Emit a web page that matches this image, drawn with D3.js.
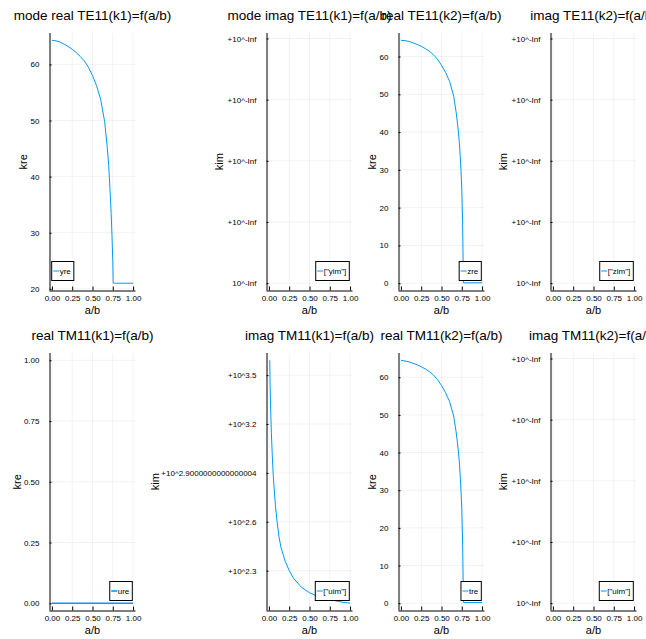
<!DOCTYPE html>
<html><head><meta charset="utf-8">
<script src="https://cdn.jsdelivr.net/npm/d3@7"></script>
<style>
body{margin:0;background:#fff}
svg{display:block}
text{font-family:"Liberation Sans",Arial,Helvetica,sans-serif;fill:#000}
</style>
</head><body>
<svg id="c" width="646" height="639"></svg>
<script>
// ---------- data ----------
const abGrid = [0, 0.05, 0.1, 0.15, 0.2, 0.25, 0.3, 0.35, 0.4, 0.45, 0.5, 0.55, 0.6, 0.65, 0.68, 0.7, 0.72, 0.73, 0.74, 0.75, 0.755, 0.76, 0.765, 0.77, 0.8, 0.85, 0.9, 0.95, 1.0];
const yre = [64.3, 64.2, 64.0, 63.6, 63.2, 62.7, 62.1, 61.4, 60.6, 59.5, 58.0, 56.2, 53.8, 49.8, 45.5, 42.0, 36.5, 33.4, 29.5, 25.0, 21.0, 21.0, 21.0, 21.0, 21.0, 21.0, 21.0, 21.0, 21.0];
const zre = [64.3, 64.2, 64.0, 63.6, 63.2, 62.7, 62.1, 61.4, 60.5, 59.3, 57.7, 55.8, 53.4, 49.5, 45.3, 41.8, 37.2, 33.8, 29.8, 25.0, 20.5, 16.0, 8.6, 0.1, 0.1, 0.1, 0.1, 0.1, 0.1];
const tre = [64.5, 64.3, 64.1, 63.7, 63.3, 62.8, 62.2, 61.5, 60.6, 59.4, 57.8, 55.9, 53.5, 49.7, 45.5, 42.0, 37.5, 34.0, 30.0, 25.2, 20.8, 16.2, 8.8, 0.2, 0.2, 0.2, 0.2, 0.2, 0.2];
const ureX = [0, 0.25, 0.5, 0.75, 1.0];
const ure = [0, 0, 0, 0, 0];
const uimX = [0.01, 0.015, 0.02, 0.03, 0.04, 0.05, 0.06, 0.08, 0.1, 0.125, 0.15, 0.2, 0.25, 0.3, 0.4, 0.5, 0.6, 0.7, 0.8, 0.9, 1.0];
const uim = [3900, 2700, 2050, 1400, 1050, 820, 680, 500, 400, 320, 275, 228, 200, 180, 158, 146, 139, 134, 131, 128, 126];

const xTickVals = [0, 0.25, 0.5, 0.75, 1];
const xTickLabels = ["0.00", "0.25", "0.50", "0.75", "1.00"];
const reTicksK1 = [20, 30, 40, 50, 60];
const reTicksK2 = [0, 10, 20, 30, 40, 50, 60];
const reTicksTM1 = [0, 0.25, 0.5, 0.75, 1];
const reTicksTM1Labels = ["0.00", "0.25", "0.50", "0.75", "1.00"];
const uimTickExp = [2.3, 2.6, 2.9, 3.2, 3.5];
const uimTickLabels = ["+10^2.3", "+10^2.6", "+10^2.9000000000000004", "+10^3.2", "+10^3.5"];
const infTickIdx = [0, 1, 2, 3, 4];
const infTickLabels = ["10^-Inf", "+10^-Inf", "+10^-Inf", "+10^-Inf", "+10^-Inf"];

const titles = ["mode real TE11(k1)=f(a/b)", "mode imag TE11(k1)=f(a/b)", "real TE11(k2)=f(a/b)", "imag TE11(k2)=f(a/b)",
                "real TM11(k1)=f(a/b)", "imag TM11(k1)=f(a/b)", "real TM11(k2)=f(a/b)", "imag TM11(k2)=f(a/b)"];
const yLabels = ["kre", "kim", "kre", "kim", "kre", "kim", "kre", "kim"];
const legendLabels = ["yre", "[\"yim\"]", "zre", "[\"zim\"]", "ure", "[\"uim\"]", "tre", "[\"uim\"]"];

// ---------- layout ----------
const COLOR = "#009AFA";
const cols = [{l: 49.5, r: 135.5}, {l: 266.5, r: 352.5}, {l: 398.5, r: 484.5}, {l: 550.5, r: 636.5}];
const rows = [{t: 33, b: 290.5}, {t: 353, b: 610.5}];
const yLabX = [[26.5, 223, 376, 507], [20.5, 159, 376, 507]];

function widen(a, b) { const e = 0.03 * (b - a); return [a - e, b + e]; }

const svg = d3.select("#c");

function panel(i, cfg) {
  const row = rows[Math.floor(i / 4)], col = cols[i % 4];
  const {l, r} = col, {t, b} = row;
  const x = d3.scaleLinear().domain(widen(0, 1)).range([l, r]);
  const y = cfg.y.range([b, t]);
  const g = svg.append("g");
  const lw = cfg.lw || 1;

  // grid
  g.append("g").selectAll("line").data(xTickVals).join("line")
    .attr("x1", d => x(d)).attr("x2", d => x(d)).attr("y1", t).attr("y2", b)
    .attr("stroke", "#000").attr("stroke-opacity", 0.1).attr("stroke-width", 0.5);
  g.append("g").selectAll("line").data(cfg.ticks).join("line")
    .attr("x1", l).attr("x2", r).attr("y1", d => y(d)).attr("y2", d => y(d))
    .attr("stroke", "#000").attr("stroke-opacity", 0.1).attr("stroke-width", 0.5);

  // axes
  const ax = g.append("g").attr("transform", `translate(0,${b})`)
    .call(d3.axisBottom(x).tickValues(xTickVals).tickFormat((d, k) => xTickLabels[k])
      .tickSize(-4).tickSizeOuter(0).tickPadding(5));
  const ay = g.append("g").attr("transform", `translate(${l},0)`)
    .call(d3.axisLeft(y).tickValues(cfg.ticks).tickFormat((d, k) => cfg.labels[k])
      .tickSize(-2).tickSizeOuter(0).tickPadding(10));
  [ax, ay].forEach(a => {
    a.attr("font-family", null).attr("font-size", null);
    a.selectAll("text").attr("font-size", 8).style("fill", "#000");
    a.selectAll("line,path").attr("stroke", "#000").attr("stroke-width", 1);
  });
  ay.select("path.domain").attr("d", `M0.5,${b}V${t}`);
  ax.select("path.domain").attr("d", `M${l},0.5H${r}`);

  // series
  if (cfg.xs && cfg.vals) {
    const line = d3.line().x((d, k) => x(cfg.xs[k])).y(d => y(d));
    g.append("path").datum(cfg.vals).attr("d", line)
      .attr("fill", "none").attr("stroke", COLOR).attr("stroke-width", lw);
  }

  // title and guides
  svg.append("text").attr("x", (l + r) / 2).attr("y", t - 13).attr("text-anchor", "middle")
    .attr("font-size", 13.5).text(titles[i]);
  g.append("text").attr("x", (l + r) / 2).attr("y", b + 23.5).attr("text-anchor", "middle")
    .attr("font-size", 11).text("a/b");
  const yl = yLabX[Math.floor(i / 4)][i % 4];
  g.append("text").attr("transform", `translate(${yl},${(t + b) / 2}) rotate(-90)`)
    .attr("text-anchor", "middle").attr("font-size", 11).text(yLabels[i]);

  // legend
  const lg = g.append("g");
  const txt = lg.append("text").attr("font-size", 8).attr("dy", "0.35em").text(legendLabels[i]);
  const tw = txt.node().getComputedTextLength();
  const w = tw + 11, h = 19;
  const bx = cfg.legendLeft ? l + 2.2 : r - 3.2 - w;
  const by = b - 10 - h;
  lg.insert("rect", "text").attr("x", bx).attr("y", by).attr("width", w).attr("height", h)
    .attr("fill", "#fff").attr("stroke", "#000").attr("stroke-width", 1);
  lg.append("line").attr("x1", bx + 1.5).attr("x2", bx + 7.5).attr("y1", by + h / 2).attr("y2", by + h / 2)
    .attr("stroke", COLOR).attr("stroke-width", lw);
  txt.attr("x", bx + 8).attr("y", by + h / 2);
}

const infY = () => d3.scaleLinear().domain([-0.12, 4.09]);
const uimDom = widen(Math.log10(d3.min(uim)), Math.log10(d3.max(uim))).map(e => Math.pow(10, e));

const cfgs = [
  {y: d3.scaleLinear().domain(widen(d3.min(yre), d3.max(yre))), ticks: reTicksK1, labels: reTicksK1.map(String), xs: abGrid, vals: yre, legendLeft: true},
  {y: infY(), ticks: infTickIdx, labels: infTickLabels},
  {y: d3.scaleLinear().domain(widen(0, d3.max(zre))), ticks: reTicksK2, labels: reTicksK2.map(String), xs: abGrid, vals: zre},
  {y: infY(), ticks: infTickIdx, labels: infTickLabels},
  {y: d3.scaleLinear().domain(widen(0, 1)), ticks: reTicksTM1, labels: reTicksTM1Labels, xs: ureX, vals: ure, lw: 1.6},
  {y: d3.scaleLog().domain(uimDom), ticks: uimTickExp.map(e => Math.pow(10, e)), labels: uimTickLabels, xs: uimX, vals: uim},
  {y: d3.scaleLinear().domain(widen(0, d3.max(tre))), ticks: reTicksK2, labels: reTicksK2.map(String), xs: abGrid, vals: tre},
  {y: infY(), ticks: infTickIdx, labels: infTickLabels}
];
cfgs.forEach((c, i) => panel(i, c));
</script>
</body></html>
